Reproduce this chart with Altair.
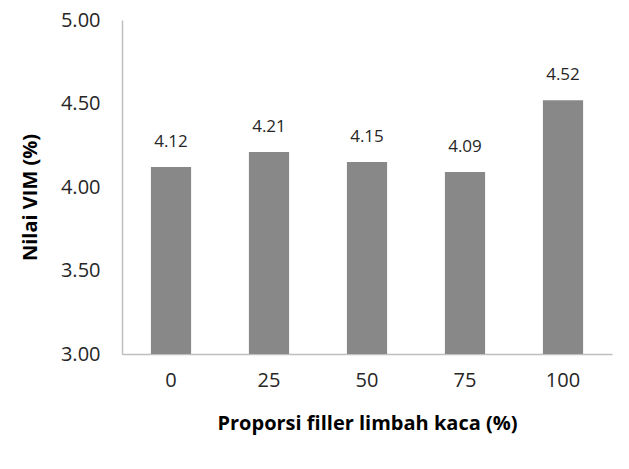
import altair as alt
import pandas as pd

categories = ["0", "25", "50", "75", "100"]
values = [4.12, 4.21, 4.15, 4.09, 4.52]
labels = ["4.12", "4.21", "4.15", "4.09", "4.52"]
y_ticks = [3.0, 3.5, 4.0, 4.5, 5.0]
baseline = 3.0

df = pd.DataFrame({"cat": categories, "val": values, "lab": labels, "base": [baseline] * 5})

FONT = "Open Sans"

x = alt.X("cat:N", sort=categories,
          scale=alt.Scale(paddingInner=0.59, paddingOuter=0.295),
          axis=alt.Axis(title="Proporsi filler limbah kaca (%)", labelAngle=0,
                        labelFont=FONT, labelFontSize=20, labelColor="#262626",
                        labelPadding=16, ticks=False, domainColor="#bfbfbf",
                        domainWidth=1.5, titleFont=FONT, titleFontSize=20,
                        titleFontWeight="bold", titleColor="#000000",
                        titleY=59))
y = alt.Y("val:Q",
          scale=alt.Scale(domain=[3.0, 5.0], nice=False, zero=False),
          axis=alt.Axis(title="Nilai VIM (%)", values=y_ticks, format=".2f",
                        labelFont=FONT, labelFontSize=20, labelColor="#262626",
                        labelPadding=22, ticks=False, grid=False,
                        domainColor="#bfbfbf", domainWidth=1.5,
                        titleFont=FONT, titleFontSize=20, titleFontWeight="bold",
                        titleColor="#000000", titleX=-82, titleY=177))

bars = alt.Chart(df).mark_bar(color="#888888").encode(x=x, y=y, y2="base:Q")
text = alt.Chart(df).mark_text(dy=-25, font=FONT, fontSize=17, color="#262626").encode(
    x=alt.X("cat:N", sort=categories), y="val:Q", text="lab:N")

chart = (bars + text).properties(
    width=490, height=334,
    autosize=alt.AutoSizeParams(type="none"),
    padding={"left": 122, "top": 20, "right": 17, "bottom": 115},
).configure_view(stroke=None)

chart.save("out.html", embed_options={"renderer": "svg", "actions": False})
